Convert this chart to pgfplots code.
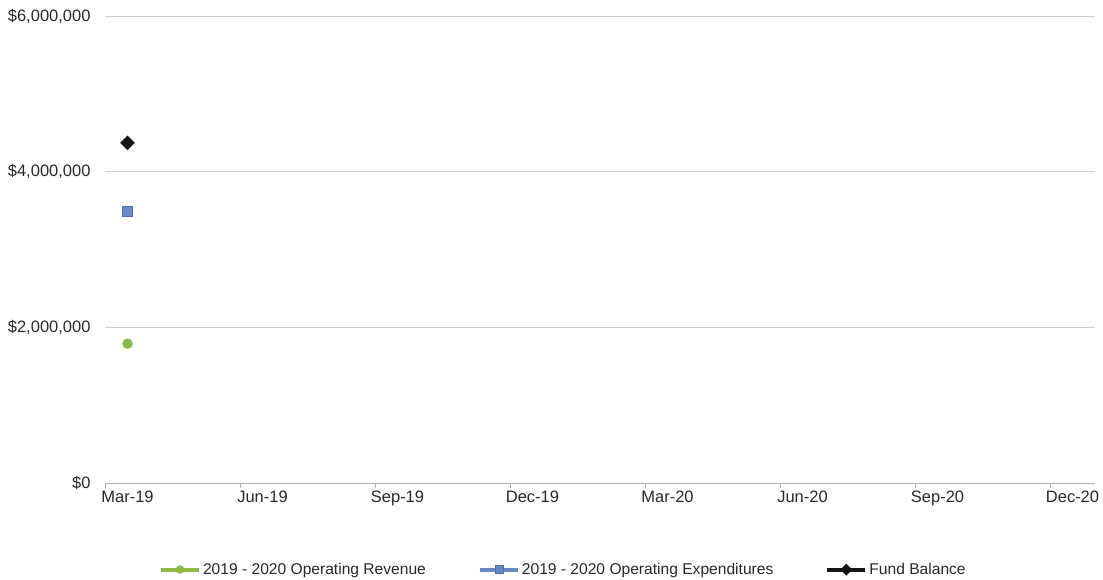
\documentclass[border=0pt]{standalone}
\usepackage{pgfplots}
\pgfplotsset{compat=1.18}
\usepackage{fontspec}
\setmainfont{Liberation Sans}
\definecolor{revgreen}{RGB}{142,186,68}
\definecolor{expblue}{RGB}{104,137,200}
\definecolor{fundblack}{RGB}{20,20,20}
\definecolor{gridgray}{RGB}{205,205,205}
\definecolor{axisgray}{RGB}{175,175,175}
\definecolor{txt}{RGB}{40,40,40}
\begin{document}
\begin{tikzpicture}
\useasboundingbox (0,0) rectangle (1103bp,580bp);
\begin{axis}[
  at={(105bp,97bp)}, anchor=south west,
  scale only axis, width=990bp, height=467bp,
  xmin=0, xmax=22, ymin=0, ymax=6000000,
  scaled y ticks=false, scaled x ticks=false,
  axis x line*=bottom, axis y line*=left,
  y axis line style={draw=none},
  x axis line style={draw=axisgray, line width=0.8bp},
  ytick={0,2000000,4000000,6000000},
  yticklabels={{\$0},{\$2,000,000},{\$4,000,000},{\$6,000,000}},
  ytick style={draw=none},
  xtick={0.5,3.5,6.5,9.5,12.5,15.5,18.5,21.5},
  xticklabels={Mar-19,Jun-19,Sep-19,Dec-19,Mar-20,Jun-20,Sep-20,Dec-20},
  xtick style={draw=none},
  extra x ticks={0,3,6,9,12,15,18,21},
  extra x tick labels={},
  extra x tick style={xtick style={draw=axisgray, line width=0.8bp}, major tick length=5bp, tick align=outside, grid=none},
  ymajorgrids, grid style={draw=gridgray, line width=0.8bp},
  tick label style={font=\fontsize{16.5bp}{19bp}\selectfont, text=txt},
  yticklabel style={xshift=-11bp},
  xticklabel style={yshift=-4bp},
  clip=false,
  legend columns=3,
  legend style={draw=none, fill=none, at={(0.463,-0.1855)}, anchor=center,
    font=\fontsize{15.6bp}{18bp}\selectfont, text=txt,
    /tikz/every even column/.append style={column sep=50bp},
    inner sep=0pt},
  legend image code/.code={
    \draw[#1, mark=none, line width=4bp] (0bp,0bp) -- (38bp,0bp);
    \draw[#1, only marks, mark size=4bp] plot coordinates {(19bp,0bp)};
  },
]
\addplot[draw=revgreen, mark=*, mark size=5bp, mark options={fill=revgreen, draw=revgreen}] coordinates {(0.5,1790000)};
\addlegendentry{2019 - 2020 Operating Revenue}
\addplot[draw=expblue, mark=square*, mark size=5bp, mark options={fill=expblue, draw=expblue!80!black}] coordinates {(0.5,3490000)};
\addlegendentry{2019 - 2020 Operating Expenditures}
\addplot[draw=fundblack, mark=square*, mark size=5bp, mark options={fill=fundblack, draw=fundblack, rotate=45}] coordinates {(0.5,4370000)};
\addlegendentry{Fund Balance}
\end{axis}
\end{tikzpicture}
\end{document}
